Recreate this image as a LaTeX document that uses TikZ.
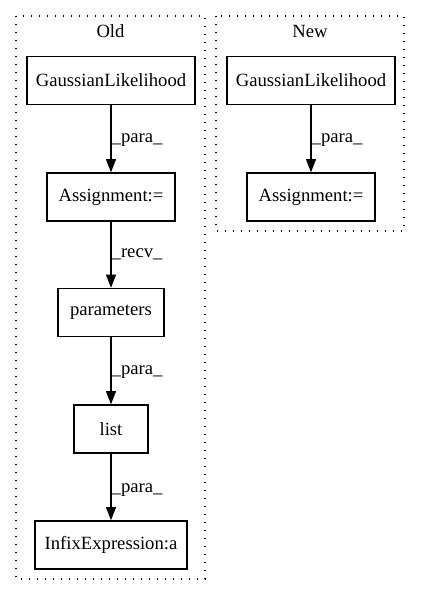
\documentclass[tikz,border=0pt]{standalone}
\usepackage{fontspec}
\setmainfont{Liberation Serif}
\usetikzlibrary{arrows.meta}
\begin{document}
\begin{tikzpicture}[x=0.75pt,y=-0.75pt,
  box/.style={draw, line width=1pt, minimum height=36pt, inner sep=0pt, font=\fontsize{14}{16}\selectfont},
  edge/.style={draw, line width=1pt, -{Triangle[length=10pt,width=7.5pt]}},
  lab/.style={anchor=west, inner sep=0pt, font=\fontsize{14}{16}\selectfont},
  cluster/.style={draw, line width=1pt, dash pattern=on 1pt off 5pt},
  ctitle/.style={inner sep=0pt, font=\fontsize{14}{16}\selectfont}]
\useasboundingbox (0,0) rectangle (421,596);
\fill[white] (0,0) rectangle (421,596);
% clusters
\draw[cluster] (16,16) rectangle (205,579);
\node[ctitle] (oldt) at (110.5,31) {Old};
\draw[cluster] (216,16) rectangle (404,231);
\node[ctitle] (newt) at (310,31) {New};
% old nodes
\node[box, minimum width=126pt] (g1) at (111,80.5) {GaussianLikelihood};
\node[box, minimum width=96pt] (a1) at (111,197) {Assignment:=};
\node[box, minimum width=79.5pt] (p1) at (111,312.5) {parameters};
\node[box, minimum width=55.5pt] (l1) at (111,429) {list};
\node[box, minimum width=114pt] (i1) at (111,545) {InfixExpression:a};
% new nodes
\node[box, minimum width=126pt] (g2) at (311,80.5) {GaussianLikelihood};
\node[box, minimum width=96pt] (a2) at (311,197) {Assignment:=};
% edges
\draw[edge] (g1) -- node[lab, pos=0.52] {\_para\_} (a1);
\draw[edge] (a1) -- node[lab, pos=0.5] {\_recv\_} (p1);
\draw[edge] (p1) -- node[lab, pos=0.52] {\_para\_} (l1);
\draw[edge] (l1) -- node[lab, pos=0.55] {\_para\_} (i1);
\draw[edge] (g2) -- node[lab, pos=0.52] {\_para\_} (a2);
\end{tikzpicture}
\end{document}
